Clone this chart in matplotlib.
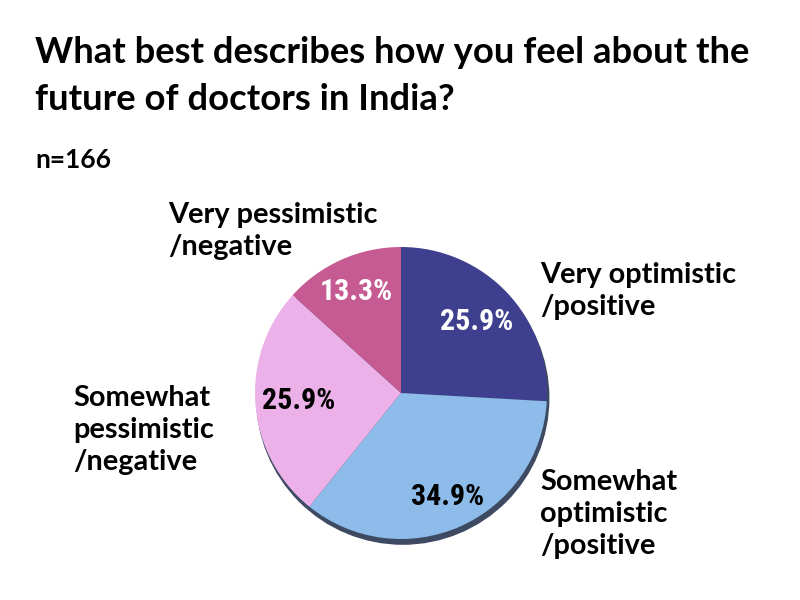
import matplotlib
matplotlib.use("Agg")
import numpy as np
import matplotlib.pyplot as plt
from matplotlib.patches import Circle

title = "What best describes how you feel about the\nfuture of doctors in India?"
subtitle = "n=166"
categories = ["Very optimistic\n/positive", "Somewhat\noptimistic\n/positive",
              "Somewhat\npessimistic\n/negative", "Very pessimistic\n/negative"]
values = [25.9, 34.9, 25.9, 13.3]
colors = ["#3F3F90", "#8DBBEA", "#EBB1E8", "#C65A92"]
pct_colors = ["white", "black", "black", "white"]
pct_dist = [0.71, 0.78, 0.70, 0.76]

W, H = 800, 600
fig = plt.figure(figsize=(8, 6), dpi=100)
fig.patch.set_facecolor("white")

def fx(px):
    return px / W

def fy(py):
    return 1 - py / H

cx, cy, r = 401, 393, 146
ax = fig.add_axes([fx(cx - r), fy(cy + r), 2 * r / W, 2 * r / H])
ax.set_xlim(-1, 1)
ax.set_ylim(-1, 1)
ax.set_aspect("equal")
ax.axis("off")

# shadow
ax.add_patch(Circle((0.012, -0.035), 1.0, color="#3E4A62", zorder=0, clip_on=False))

wedges, texts, autotexts = ax.pie(values, colors=colors, startangle=90, counterclock=False,
                                  radius=1.0, autopct="%1.1f%%", pctdistance=0.7,
                                  wedgeprops=dict(linewidth=0), frame=False)
ax.set_xlim(-1, 1)
ax.set_ylim(-1, 1)
for w, t, c, d in zip(wedges, autotexts, pct_colors, pct_dist):
    ang = np.deg2rad((w.theta1 + w.theta2) / 2)
    t.set_position((d * np.cos(ang), d * np.sin(ang)))
    t.set_color(c)
    t.set_fontsize(21.5)
    t.set_fontweight("bold")
    t.set_family(["Roboto Condensed", "Roboto", "DejaVu Sans"])

lab_font = ["Lato", "DejaVu Sans"]
fig.text(fx(35), fy(76), title, fontsize=26.2, fontweight="bold", family=lab_font,
         ha="left", va="center", linespacing=1.5)
fig.text(fx(35), fy(160), subtitle, fontsize=19, fontweight="bold", family=lab_font,
         ha="left", va="center")

label_pos = [(540, 291), (540, 514), (73, 430), (168, 231)]
for lab, (px, py) in zip(categories, label_pos):
    fig.text(fx(px), fy(py), lab, fontsize=20.8, fontweight="bold", family=lab_font,
             ha="left", va="center", linespacing=1.27)

fig.savefig("out.png", dpi=100, facecolor="white")
